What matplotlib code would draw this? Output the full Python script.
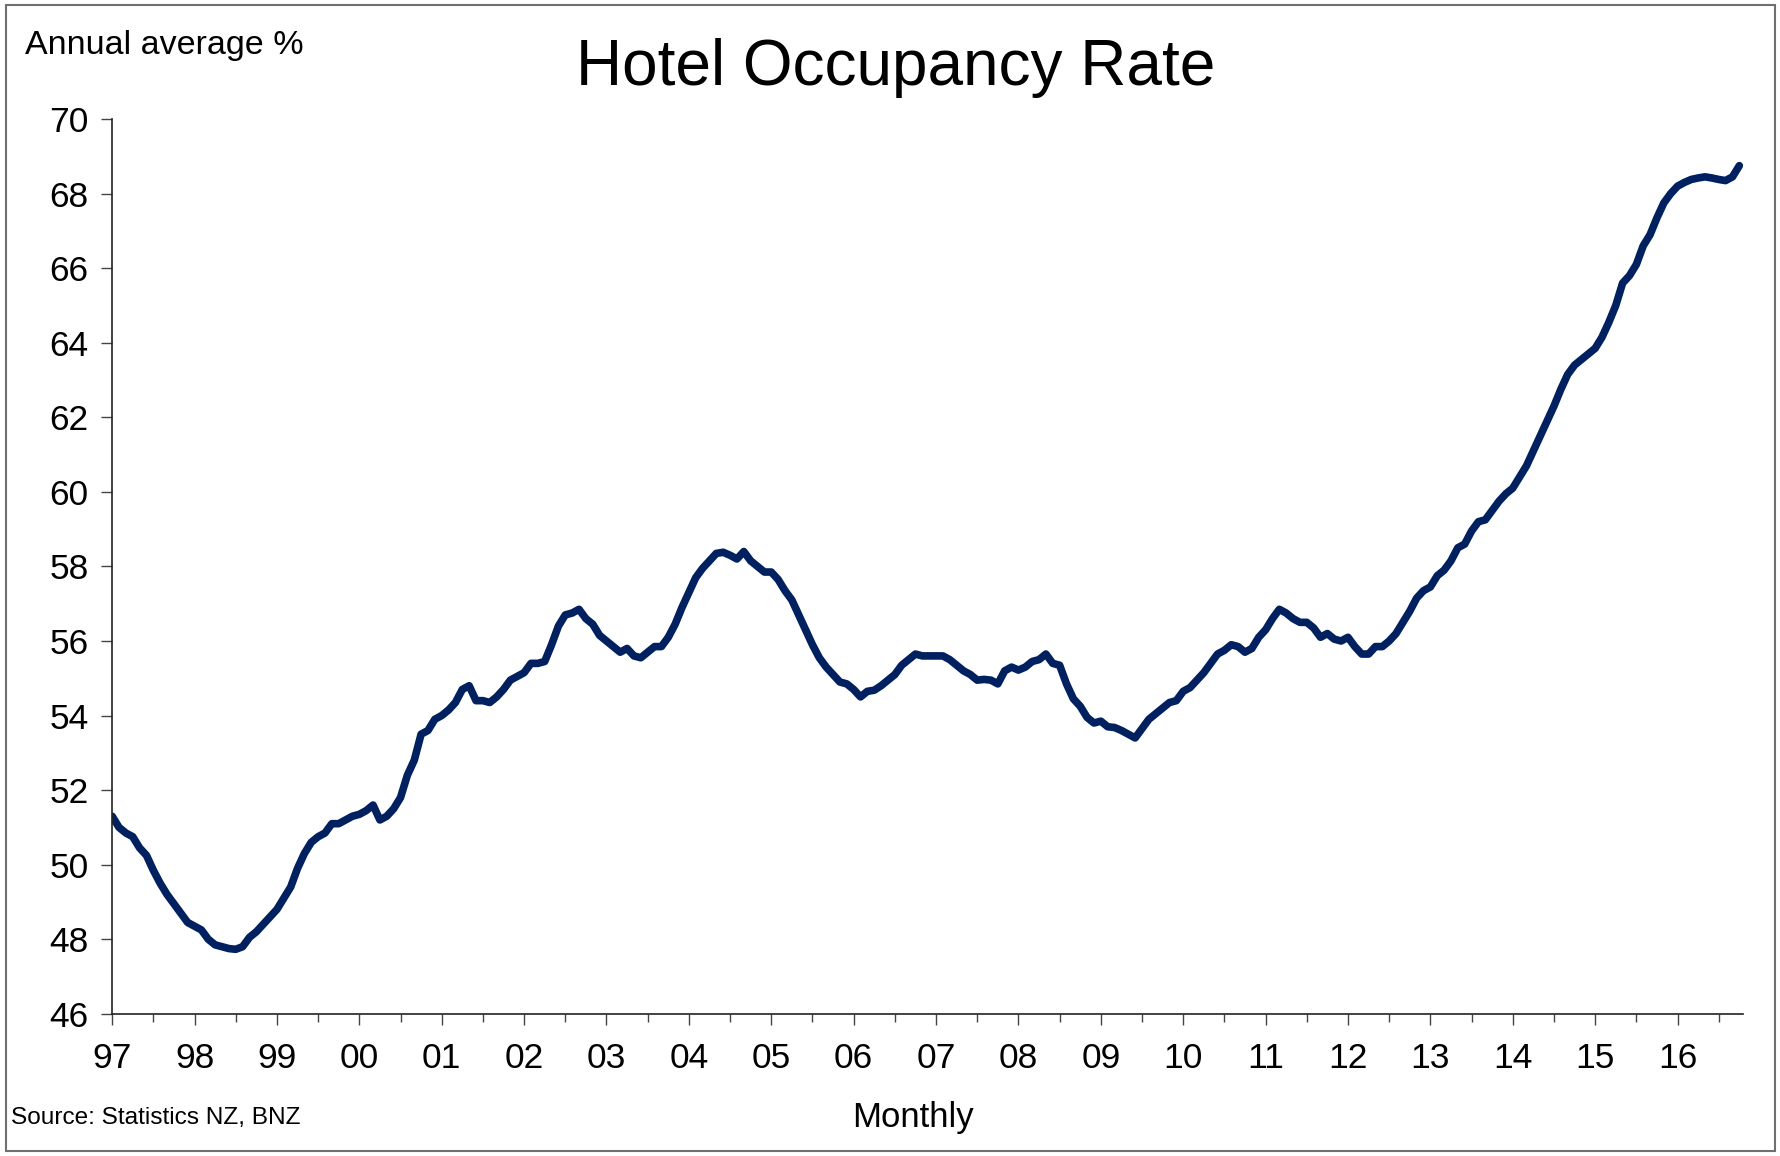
import numpy as np
import matplotlib
matplotlib.use('Agg')
import matplotlib.pyplot as plt
from matplotlib.patches import Rectangle

plt.rcParams['font.family'] = ['Liberation Sans', 'DejaVu Sans']

# monthly hotel occupancy, annual average %, Jan 1997 onwards
occ_1997 = [51.3, 51.0, 50.85, 50.75, 50.45, 50.25, 49.85, 49.5, 49.2, 48.95, 48.7, 48.45]
occ_1998 = [48.35, 48.25, 48.0, 47.85, 47.8, 47.75, 47.73, 47.8, 48.05, 48.2, 48.4, 48.6]
occ_1999 = [48.8, 49.1, 49.4, 49.9, 50.3, 50.6, 50.75, 50.85, 51.1, 51.1, 51.2, 51.3]
occ_2000 = [51.35, 51.45, 51.6, 51.2, 51.3, 51.5, 51.8, 52.4, 52.8, 53.5, 53.6, 53.9]
occ_2001 = [54.0, 54.15, 54.35, 54.7, 54.8, 54.4, 54.4, 54.35, 54.5, 54.7, 54.95, 55.05]
occ_2002 = [55.15, 55.4, 55.4, 55.45, 55.9, 56.4, 56.7, 56.75, 56.85, 56.6, 56.45, 56.15]
occ_2003 = [56.0, 55.85, 55.7, 55.8, 55.6, 55.55, 55.7, 55.85, 55.85, 56.1, 56.45, 56.9]
occ_2004 = [57.3, 57.7, 57.95, 58.15, 58.35, 58.38, 58.3, 58.2, 58.4, 58.15, 58.0, 57.85]
occ_2005 = [57.85, 57.65, 57.35, 57.1, 56.7, 56.3, 55.9, 55.55, 55.3, 55.1, 54.9, 54.85]
occ_2006 = [54.7, 54.5, 54.65, 54.68, 54.8, 54.95, 55.1, 55.35, 55.5, 55.65, 55.6, 55.6]
occ_2007 = [55.6, 55.6, 55.5, 55.35, 55.2, 55.1, 54.95, 54.97, 54.95, 54.85, 55.2, 55.3]
occ_2008 = [55.22, 55.3, 55.45, 55.5, 55.65, 55.4, 55.35, 54.85, 54.45, 54.25, 53.95, 53.8]
occ_2009 = [53.85, 53.7, 53.68, 53.6, 53.5, 53.4, 53.65, 53.9, 54.05, 54.2, 54.35, 54.4]
occ_2010 = [54.65, 54.75, 54.95, 55.15, 55.4, 55.65, 55.75, 55.9, 55.85, 55.7, 55.8, 56.1]
occ_2011 = [56.3, 56.6, 56.85, 56.75, 56.6, 56.5, 56.5, 56.35, 56.1, 56.2, 56.05, 56.0]
occ_2012 = [56.1, 55.85, 55.65, 55.65, 55.85, 55.85, 56.0, 56.2, 56.5, 56.8, 57.15, 57.35]
occ_2013 = [57.45, 57.75, 57.9, 58.15, 58.5, 58.6, 58.95, 59.2, 59.25, 59.5, 59.75, 59.95]
occ_2014 = [60.1, 60.4, 60.7, 61.1, 61.5, 61.9, 62.3, 62.75, 63.15, 63.4, 63.55, 63.7]
occ_2015 = [63.85, 64.15, 64.55, 65.0, 65.6, 65.8, 66.1, 66.6, 66.9, 67.35, 67.75, 68.0]
occ_2016 = [68.2, 68.3, 68.38, 68.42, 68.45, 68.42, 68.38, 68.35, 68.45, 68.75]

occupancy = (occ_1997 + occ_1998 + occ_1999 + occ_2000 + occ_2001 + occ_2002 + occ_2003
             + occ_2004 + occ_2005 + occ_2006 + occ_2007 + occ_2008 + occ_2009 + occ_2010
             + occ_2011 + occ_2012 + occ_2013 + occ_2014 + occ_2015 + occ_2016)
start_year = 1997
years = list(range(1997, 2017))
year_labels = ['97', '98', '99', '00', '01', '02', '03', '04', '05', '06',
               '07', '08', '09', '10', '11', '12', '13', '14', '15', '16']
y_ticks = [46, 48, 50, 52, 54, 56, 58, 60, 62, 64, 66, 68, 70]

t = start_year + np.arange(len(occupancy)) / 12.0

fig = plt.figure(figsize=(17.8, 11.56), dpi=100)
ax = fig.add_axes([0.063, 0.123, 0.916, 0.774])

ax.plot(t, occupancy, color='#002060', lw=5.5, solid_capstyle='round', solid_joinstyle='round')

ax.set_xlim(1997, 2016.79)
ax.set_ylim(46, 70)
ax.set_yticks(y_ticks)
ax.set_yticklabels([str(v) for v in y_ticks])
ax.set_xticks(years)
ax.set_xticklabels(year_labels)
ax.set_xticks([y + 0.5 for y in years], minor=True)

for s in ['top', 'right']:
    ax.spines[s].set_visible(False)
for s in ['left', 'bottom']:
    ax.spines[s].set_linewidth(1.2)
    ax.spines[s].set_color('#222222')

ax.tick_params(axis='y', direction='out', length=8, width=1, color='#444444',
               labelsize=25.5, pad=9)
ax.tick_params(axis='x', which='major', direction='out', length=8, width=1,
               color='#444444', labelsize=25.5, pad=12)
ax.tick_params(axis='x', which='minor', direction='out', length=6, width=1, color='#444444')

fig.text(0.503, 0.941, 'Hotel Occupancy Rate', ha='center', va='center', fontsize=46)
fig.text(0.014, 0.961, 'Annual average %', ha='left', va='center', fontsize=24.5)
fig.text(0.513, 0.033, 'Monthly', ha='center', va='center', fontsize=25)
fig.text(0.006, 0.033, 'Source: Statistics NZ, BNZ', ha='left', va='center', fontsize=17.6)

# thin frame around the whole picture
fig.patches.append(Rectangle((0.0035, 0.004), 0.9935, 0.9915, transform=fig.transFigure,
                             fill=False, edgecolor='#707070', lw=1.5))

fig.savefig('out.png', dpi=100)
